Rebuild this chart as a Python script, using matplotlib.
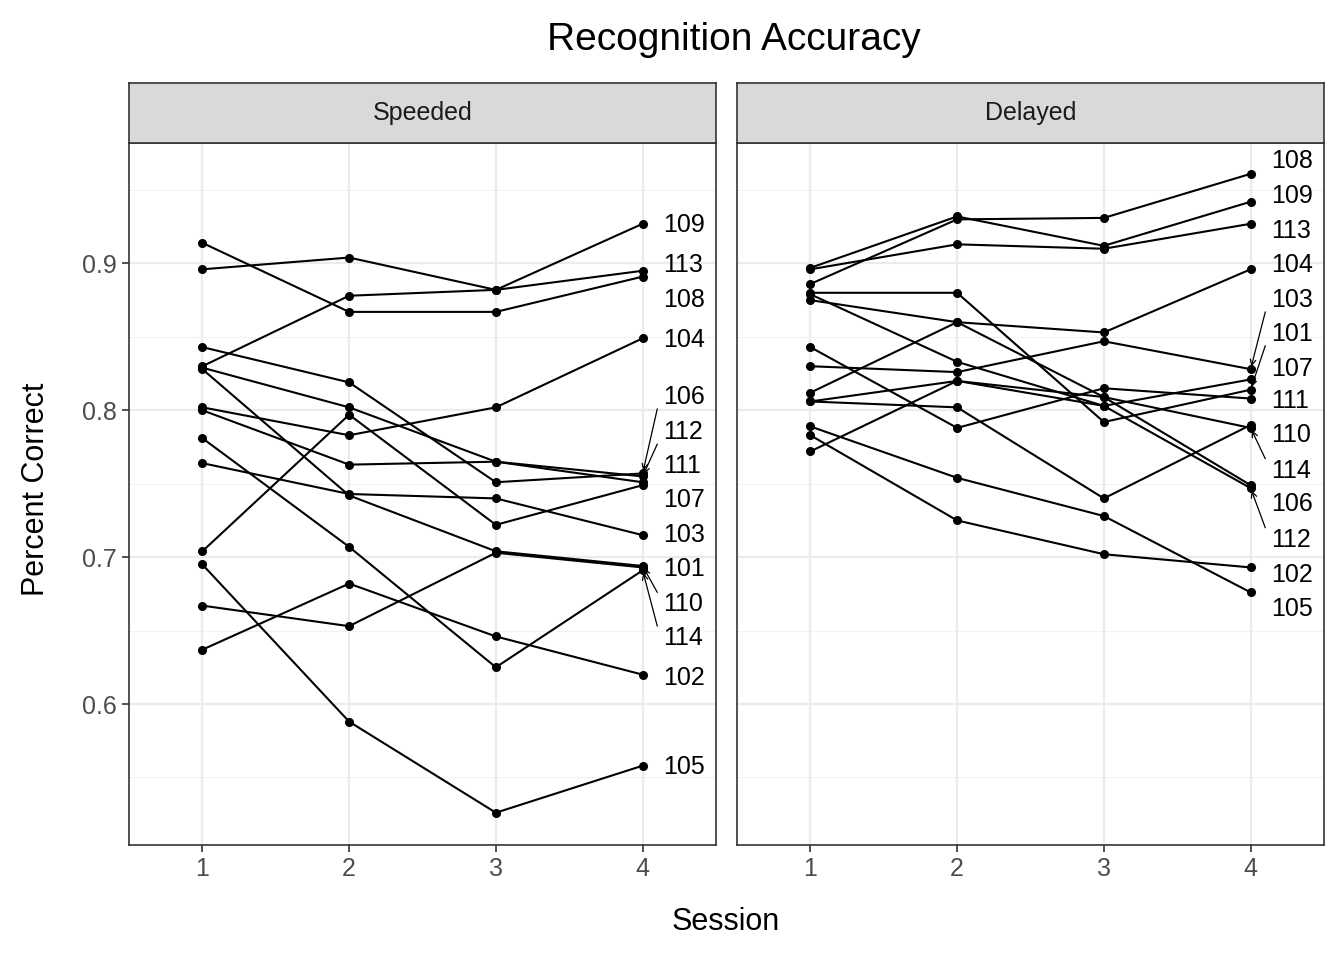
import matplotlib
matplotlib.use("Agg")
from matplotlib import pyplot as plt

plt.rcParams['font.family'] = ['Liberation Sans', 'DejaVu Sans']

sessions = [1, 2, 3, 4]

# speeded condition, one row per subject (sessions 1-4)
speeded_ids = ['108', '109', '113', '106', '111', '110', '104', '112',
               '114', '103', '107', '105', '101', '102']
speeded = [
    [0.914, 0.867, 0.867, 0.891],
    [0.896, 0.904, 0.882, 0.927],
    [0.830, 0.878, 0.882, 0.895],
    [0.843, 0.819, 0.751, 0.757],
    [0.829, 0.802, 0.765, 0.751],
    [0.828, 0.742, 0.704, 0.694],
    [0.802, 0.783, 0.802, 0.849],
    [0.800, 0.763, 0.765, 0.755],
    [0.781, 0.707, 0.625, 0.691],
    [0.764, 0.743, 0.740, 0.715],
    [0.704, 0.797, 0.722, 0.749],
    [0.695, 0.588, 0.526, 0.558],
    [0.667, 0.653, 0.703, 0.693],
    [0.637, 0.682, 0.646, 0.620],
]
speeded_label_order = ['109', '113', '108', '104', '106', '112', '111',
                       '107', '103', '101', '110', '114', '102', '105']
speeded_label_y = [0.926, 0.899, 0.875, 0.848, 0.809, 0.785, 0.762,
                   0.739, 0.715, 0.692, 0.668, 0.645, 0.618, 0.557]

delayed_ids = ['108', '109', '113', '104', '103', '101', '107', '111',
               '110', '114', '106', '112', '105', '102']
delayed = [
    [0.886, 0.930, 0.931, 0.961],
    [0.897, 0.932, 0.912, 0.942],
    [0.896, 0.913, 0.910, 0.927],
    [0.875, 0.860, 0.853, 0.896],
    [0.830, 0.826, 0.847, 0.828],
    [0.880, 0.880, 0.792, 0.814],
    [0.879, 0.833, 0.803, 0.821],
    [0.843, 0.788, 0.815, 0.808],
    [0.806, 0.802, 0.740, 0.790],
    [0.772, 0.820, 0.809, 0.788],
    [0.812, 0.860, 0.809, 0.749],
    [0.806, 0.820, 0.803, 0.747],
    [0.789, 0.754, 0.728, 0.676],
    [0.783, 0.725, 0.702, 0.693],
]
delayed_label_order = ['108', '109', '113', '104', '103', '101', '107',
                       '111', '110', '114', '106', '112', '102', '105']
delayed_label_y = [0.970, 0.946, 0.922, 0.899, 0.875, 0.852, 0.828,
                   0.806, 0.783, 0.759, 0.736, 0.712, 0.688, 0.665]

panels = [('Speeded', speeded_ids, speeded, speeded_label_order, speeded_label_y),
          ('Delayed', delayed_ids, delayed, delayed_label_order, delayed_label_y)]

fig = plt.figure(figsize=(13.44, 9.6), dpi=100)
lefts = [129 / 1344, 737 / 1344]
width = 587 / 1344
bottom = 115 / 960
height = 702 / 960
strip_h = 60 / 960

for i, (name, ids, vals, order, label_y) in enumerate(panels):
    ax = fig.add_axes([lefts[i], bottom, width, height])
    ax.set_xlim(0.5, 4.5)
    ax.set_ylim(0.504, 0.982)
    for y in [0.55, 0.65, 0.75, 0.85, 0.95]:
        ax.axhline(y, color='#f2f2f2', lw=0.8, zorder=0)
    for y in [0.6, 0.7, 0.8, 0.9]:
        ax.axhline(y, color='#ebebeb', lw=1.6, zorder=0)
    for x in sessions:
        ax.axvline(x, color='#ebebeb', lw=1.6, zorder=0)
    for row in vals:
        ax.plot(sessions, row, color='black', lw=1.5, marker='o', ms=5.5, zorder=2)
    for lab, ly in zip(order, label_y):
        end = vals[ids.index(lab)][3]
        ax.text(4.14, ly, lab, fontsize=18, va='center', ha='left', clip_on=False)
        if abs(end - ly) > 0.02:
            ax.annotate('', xy=(4.0, end), xytext=(4.1, ly - 0.008 * (1 if ly > end else -1)),
                        arrowprops=dict(arrowstyle='->', lw=0.9, color='black',
                                        shrinkA=0, shrinkB=2, mutation_scale=10),
                        annotation_clip=False)
    ax.set_xticks(sessions)
    ax.set_yticks([0.6, 0.7, 0.8, 0.9])
    ax.tick_params(labelsize=18, colors='#4d4d4d', length=5, width=1.2, color='#333333')
    if i == 1:
        ax.tick_params(axis='y', left=False, labelleft=False)
    else:
        ax.set_yticklabels(['0.6', '0.7', '0.8', '0.9'])
    for s in ax.spines.values():
        s.set_color('#333333')
        s.set_linewidth(1.2)
    sax = fig.add_axes([lefts[i], bottom + height, width, strip_h])
    sax.set_xticks([])
    sax.set_yticks([])
    sax.set_facecolor('#d9d9d9')
    for s in sax.spines.values():
        s.set_color('#333333')
        s.set_linewidth(1.2)
    sax.text(0.5, 0.5, name, ha='center', va='center', fontsize=18, color='#1a1a1a',
             transform=sax.transAxes)

fig.text(0.546, 0.958, 'Recognition Accuracy', ha='center', va='center', fontsize=28)
fig.text(0.54, 0.04, 'Session', ha='center', va='center', fontsize=22)
fig.text(0.027, 0.49, 'Percent Correct', ha='center', va='center', fontsize=22, rotation=90)

fig.savefig('out.png', dpi=100)
